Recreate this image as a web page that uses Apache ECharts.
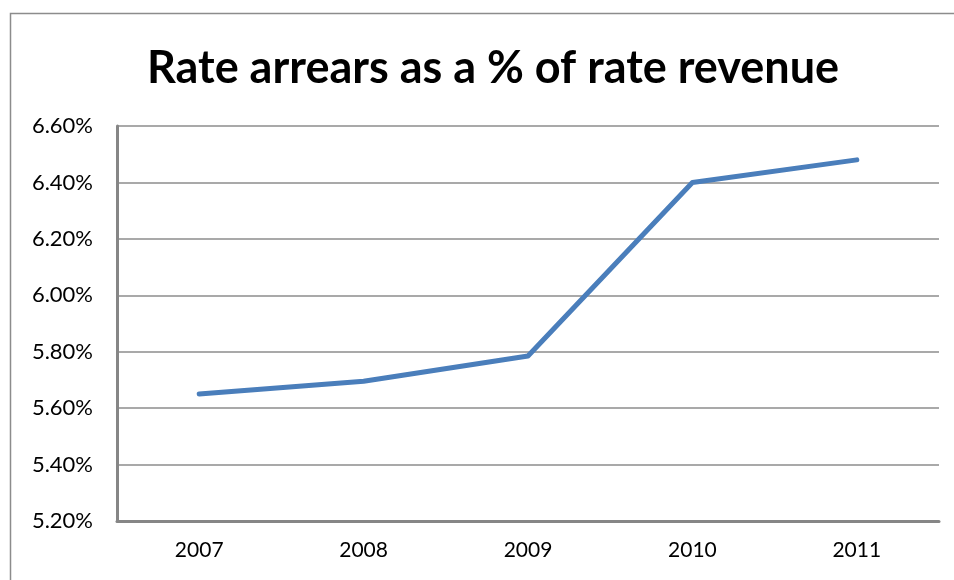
<!DOCTYPE html>
<html><head><meta charset="utf-8">
<script src="https://cdn.jsdelivr.net/npm/echarts@6/dist/echarts.min.js"></script>
<style>html,body{margin:0;padding:0;background:#fff}#c{width:954px;height:580px}</style>
</head><body><div id="c"></div>
<script>
var categories = ['2007','2008','2009','2010','2011'];
var values = [5.65, 5.695, 5.785, 6.40, 6.48];
var yTicks = [5.2, 5.4, 5.6, 5.8, 6.0, 6.2, 6.4, 6.6];
var titleText = 'Rate arrears as a % of rate revenue';

var chart = echarts.init(document.getElementById('c'));
chart.setOption({
  animation: false,
  backgroundColor: '#fff',
  graphic: [{type:'rect', shape:{x:10.5,y:13.5,width:960,height:600}, style:{fill:'none', stroke:'#8c8c8c', lineWidth:1.5}, silent:true}],
  title: {text: titleText, left: 142, top: 41,
    textStyle: {fontFamily: 'Lato', fontWeight: 'bold', fontSize: 45, color: '#000'}},
  grid: {left: 117, right: 15, top: 126, bottom: 59, containLabel: false},
  xAxis: {type: 'category', data: categories, boundaryGap: true,
    axisLine: {lineStyle: {color: '#868686', width: 3}},
    axisTick: {show: false},
    axisLabel: {fontFamily: 'Lato', fontSize: 21, color: '#000', margin: 19}},
  yAxis: {type: 'value', min: 5.2, max: 6.6, interval: 0.2,
    axisLine: {show: true, lineStyle: {color: '#868686', width: 3}},
    axisTick: {show: false},
    splitLine: {lineStyle: {color: '#8c8c8c', width: 1.5}},
    axisLabel: {fontFamily: 'Lato', fontSize: 22, color: '#000', margin: 24,
      formatter: function(v){ return v.toFixed(2) + '%'; }}},
  series: [{type: 'line', data: values, symbol: 'none', smooth: false,
    lineStyle: {color: '#4a7ebb', width: 5, cap: 'round', join: 'round'}}]
});
</script></body></html>
